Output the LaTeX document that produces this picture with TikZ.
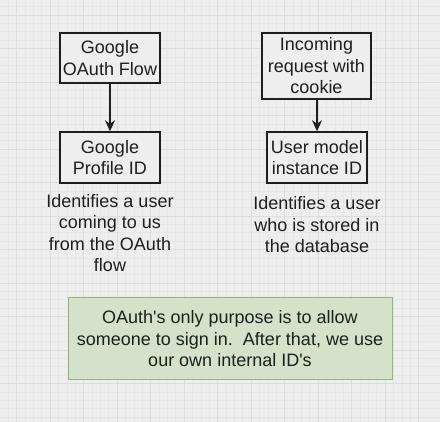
\documentclass[tikz,border=0pt]{standalone}
\usepackage{fontspec}
\setmainfont{Liberation Sans}
\usetikzlibrary{arrows.meta}

\definecolor{paper}{RGB}{238,238,238}
\definecolor{gridminor}{RGB}{231,231,231}
\definecolor{gridmajor}{RGB}{221,221,221}
\definecolor{ink}{RGB}{30,30,30}
\definecolor{notefill}{RGB}{212,226,202}
\definecolor{noteline}{RGB}{150,178,128}

\begin{document}
\begin{tikzpicture}[x=1pt,y=-1pt,
    box/.style={draw=ink, line width=1.5pt, fill=paper, text=ink, align=center,
        inner sep=0pt, font=\fontsize{18}{21.5}\selectfont},
    caption/.style={text=ink, align=center, inner sep=0pt,
        font=\fontsize{18}{21.5}\selectfont},
    flow/.style={draw=ink, line width=2pt, -{Stealth[length=11pt,width=10pt]}}]

    % background and grid
    \fill[paper] (0,0) rectangle (440,422);
    \useasboundingbox (0,0) rectangle (440,422);
    \foreach \k in {0,...,52} {
        \draw[gridminor, line width=0.5pt] (16.5+\k*8.375-33.5,0) -- ++(0,422);
        \draw[gridminor, line width=0.5pt] (0,15+\k*8.375-33.5) -- ++(440,0);
    }
    \foreach \k in {0,...,13} {
        \draw[gridmajor, line width=0.8pt] (16.5+\k*33.5,0) -- ++(0,422);
        \draw[gridmajor, line width=0.8pt] (0,15+\k*33.5) -- ++(440,0);
    }

    % left column
    \node[box, minimum width=100pt, minimum height=50pt] (gflow) at (110,58) {Google\\OAuth Flow};
    \node[box, minimum width=100pt, minimum height=51pt] (gprofile) at (110,157.5) {Google\\Profile ID};
    \node[caption] (gnote) at (110,233) {Identifies a user\\coming to us\\from the OAuth\\flow};

    % right column
    \node[box, minimum width=109pt, minimum height=66pt] (request) at (316.5,66) {Incoming\\request with\\cookie};
    \node[box, minimum width=100pt, minimum height=51pt] (usermodel) at (317,157.5) {User model\\instance ID};
    \node[caption] (unote) at (317,225) {Identifies a user\\who is stored in\\the database};

    \draw[flow] (gflow) -- (gprofile);
    \draw[flow] (request.south -| usermodel.north) -- (usermodel.north);

    % note at the bottom
    \node[box, draw=noteline, line width=1pt, fill=notefill,
        minimum width=324pt, minimum height=82pt] (purpose) at (230,339)
        {OAuth\textquotesingle s only purpose is to allow\\someone to sign in.\ \ After that, we use\\our own internal ID\textquotesingle s};

\end{tikzpicture}
\end{document}
